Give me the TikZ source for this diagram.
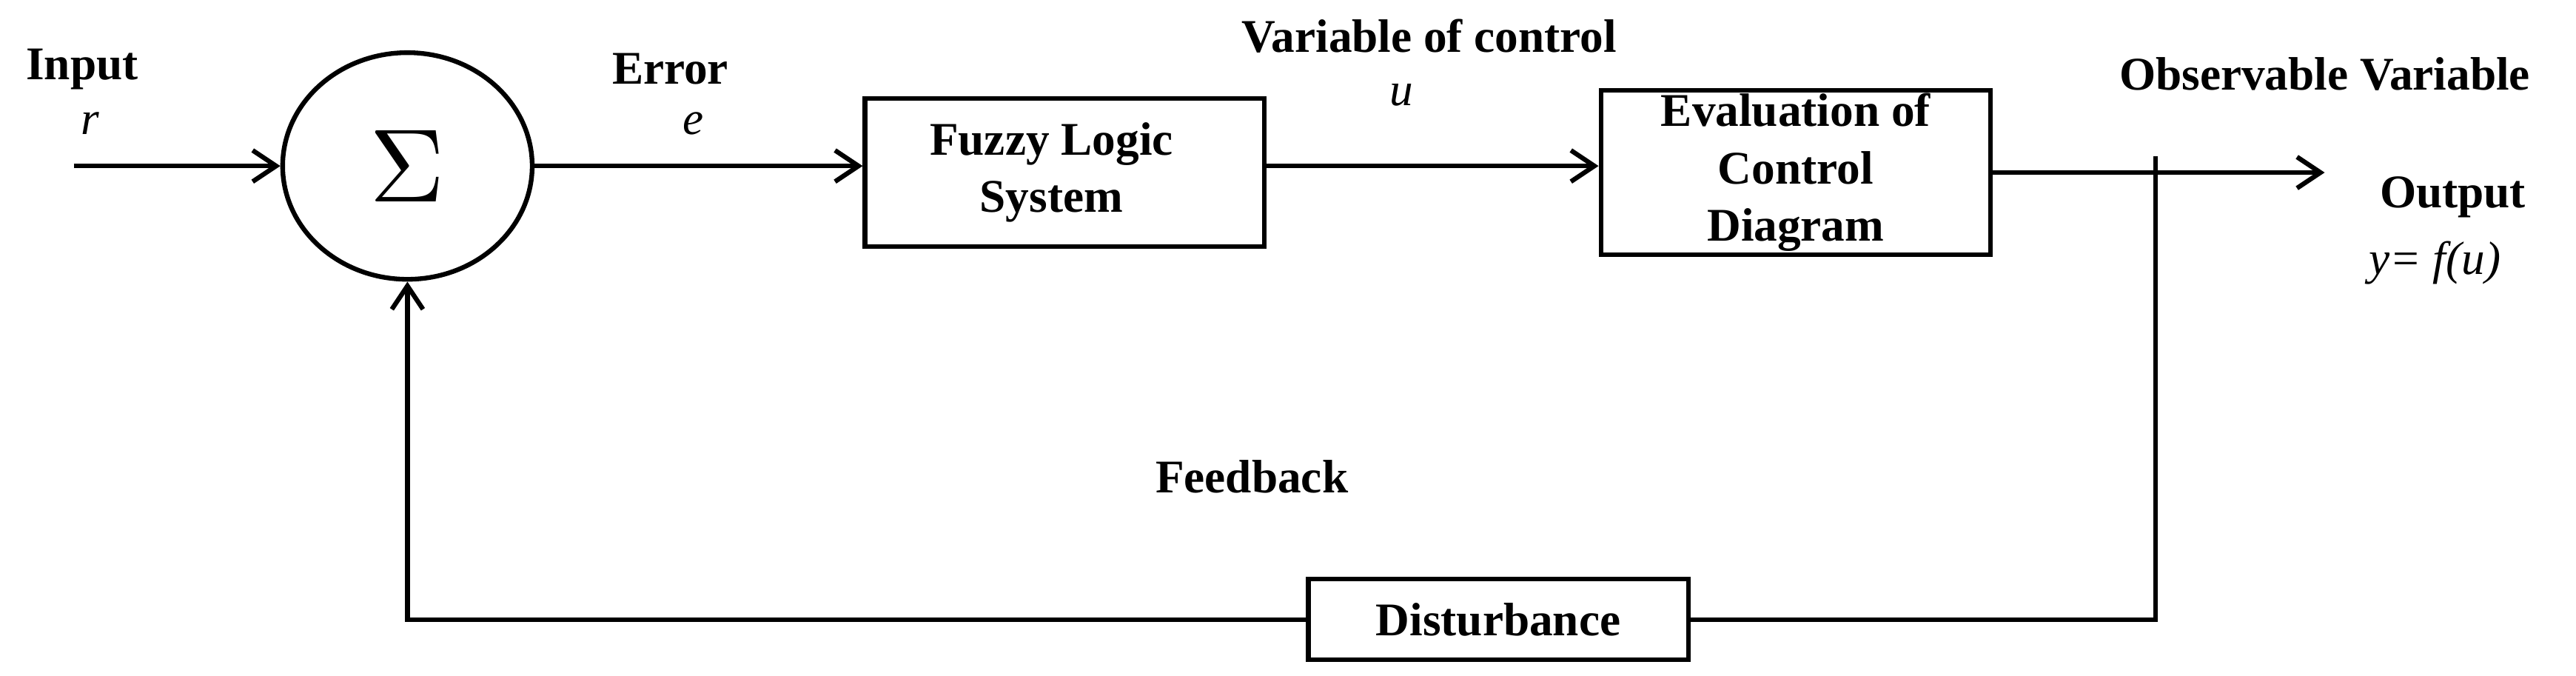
\documentclass[tikz,border=0pt]{standalone}
\usepackage{fontspec}
\setmainfont{Liberation Serif}
\usetikzlibrary{arrows.meta,shapes.geometric}
\begin{document}
\begin{tikzpicture}[x=0.02219cm,y=-0.02219cm,
  line width=1.8pt,
  lbl/.style={font=\fontsize{18}{22}\selectfont\bfseries, inner sep=0pt},
  ilbl/.style={font=\fontsize{18}{22}\selectfont\itshape, inner sep=0pt},
  blk/.style={draw, font=\fontsize{18}{22}\selectfont\bfseries, align=center, inner sep=0pt},
  arr/.style={-{Straight Barb[length=9pt,width=12pt]}}]
\useasboundingbox (0,0) rectangle (1568,411);
\node[lbl] (tin) at (50,42) {Input};
\node[ilbl] (tr) at (55,75) {r};
\coordinate (in) at (45,101);
\node[draw, ellipse, minimum width=3.37cm, minimum height=3.06cm, inner sep=0pt] (sum) at (248,101) {\scalebox{4}{$\Sigma$}};
\node[lbl] (terr) at (408,42) {Error};
\node[ilbl] (te) at (422,75) {e};
\node[blk, minimum width=5.39cm, minimum height=2.0cm] (fz) at (648,105) {};
\node[lbl, align=center] (fzt) at (640,105) {Fuzzy Logic\\System};
\node[blk, minimum width=5.26cm, minimum height=2.22cm] (ev) at (1093,105) {Evaluation of\\Control\\Diagram};
\node[lbl] (tvc) at (870,22) {Variable of control};
\node[ilbl] (tu) at (853,58) {u};
\node[lbl] (tov) at (1415,45) {Observable Variable};
\node[lbl] (tout) at (1493,120) {Output};
\node[ilbl] (ty) at (1482,160) {y= f(u)};
\node[lbl] (tfb) at (762,290) {Feedback};
\coordinate (out) at (1415,105);
\coordinate (tapT) at (1312,95);
\coordinate (c1) at (1312,377);
\coordinate (c2) at (248,377);
\node[blk, minimum width=5.13cm, minimum height=1.09cm] (dist) at (912,377) {Disturbance};
\draw[arr] (in) -- (sum.west);
\draw[arr] (sum.east) -- (fz.west |- sum.east);
\draw[arr] (fz.east |- sum.east) -- (ev.west |- sum.east);
\draw[arr] (ev.east) -- (out);
\draw (tapT) -- (c1) -- (dist.east);
\draw[arr] (dist.west) -- (c2) -- (sum.south);
\end{tikzpicture}
\end{document}
